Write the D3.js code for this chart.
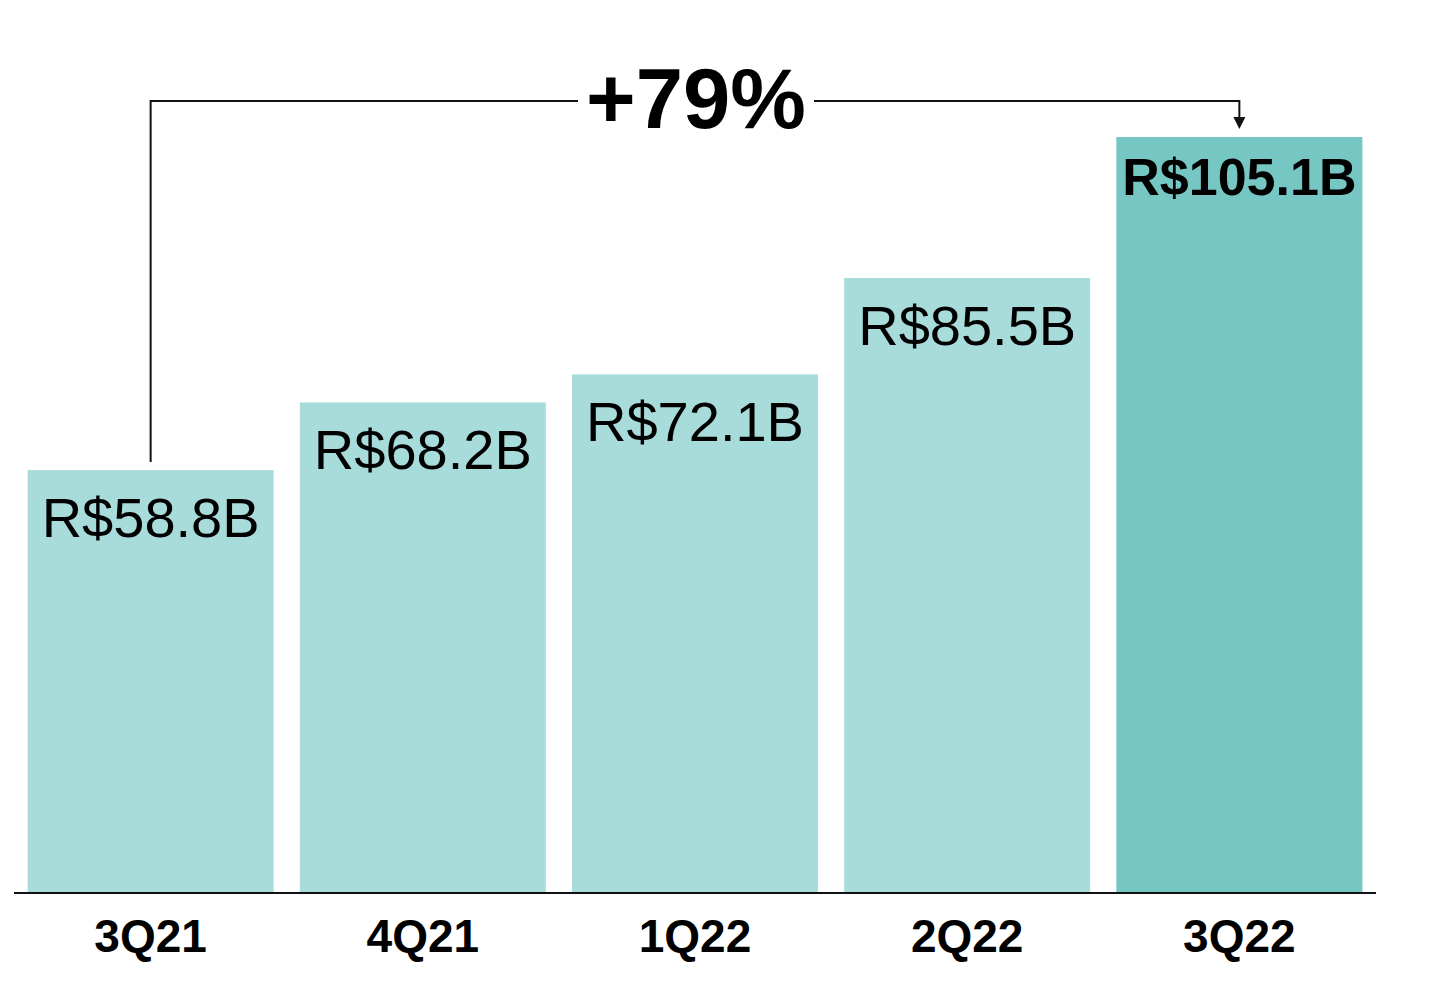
<!DOCTYPE html>
<html><head><meta charset="utf-8">
<script src="https://cdn.jsdelivr.net/npm/d3@7/dist/d3.min.js"></script>
<style>html,body{margin:0;padding:0;background:#fff;}svg{display:block;}</style>
</head><body>
<svg id="chart" width="1438" height="992"></svg>
<script>
const categories = ["3Q21","4Q21","1Q22","2Q22","3Q22"];
const values = [58.8, 68.2, 72.1, 85.5, 105.1];
const valueLabels = ["R$58.8B","R$68.2B","R$72.1B","R$85.5B","R$105.1B"];
const growthLabel = "+79%";

const svg = d3.select("#chart");
const font = "'Liberation Sans', Arial, sans-serif";
const x = d3.scaleBand().domain(categories).range([14, 1376]).paddingInner(0.096).paddingOuter(0.05);
const y = d3.scaleLinear().domain([0, 105.1]).range([893, 137]);

svg.selectAll("rect.bar").data(categories).join("rect")
  .attr("x", d => x(d)).attr("width", x.bandwidth())
  .attr("y", (d,i) => y(values[i])).attr("height", (d,i) => y(0) - y(values[i]))
  .attr("fill", (d,i) => i === categories.length-1 ? "#76C6C3" : "#A8DCDB");

svg.append("line").attr("x1", 14).attr("x2", 1376).attr("y1", 893).attr("y2", 893)
  .attr("stroke", "#111").attr("stroke-width", 2);

svg.selectAll("text.val").data(categories).join("text")
  .attr("x", d => x(d) + x.bandwidth()/2)
  .attr("y", (d,i) => y(values[i]) + (i === categories.length-1 ? 58 : 67))
  .attr("text-anchor", "middle").attr("font-family", font)
  .attr("font-size", (d,i) => i === categories.length-1 ? 52 : 56)
  .attr("font-weight", (d,i) => i === categories.length-1 ? "bold" : "normal")
  .attr("fill", "#000").text((d,i) => valueLabels[i]);

svg.selectAll("text.cat").data(categories).join("text")
  .attr("x", d => x(d) + x.bandwidth()/2).attr("y", 952)
  .attr("text-anchor", "middle").attr("font-family", font)
  .attr("font-size", 46).attr("font-weight", "bold").attr("fill", "#000").text(d => d);

// growth bracket
const x0 = x(categories[0]) + x.bandwidth()/2;
const x1 = x(categories[4]) + x.bandwidth()/2;
const by = 101;
const g = svg.append("g").attr("stroke", "#111").attr("stroke-width", 2).attr("fill", "none");
g.append("path").attr("d", `M${x0},${y(values[0]) - 8}V${by}H578`);
g.append("path").attr("d", `M814,${by}H${x1}V${y(values[4]) - 18}`);
svg.append("path").attr("d", `M${x1-6},${y(values[4]) - 20}L${x1+6},${y(values[4]) - 20}L${x1},${y(values[4]) - 8}Z`).attr("fill", "#111");
svg.append("text").attr("x", (578+814)/2 + 0).attr("y", 128).attr("text-anchor", "middle")
  .attr("font-family", font).attr("font-size", 85).attr("font-weight", "bold").attr("fill", "#000").text(growthLabel);
</script>
</body></html>
